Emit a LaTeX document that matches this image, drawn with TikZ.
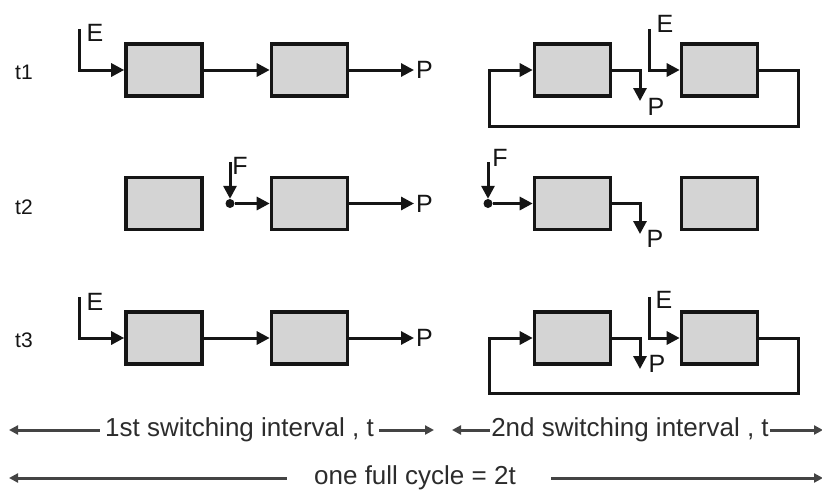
\documentclass[tikz,border=0pt]{standalone}
\usepackage{fontspec}
\setmainfont{Liberation Sans}
\usetikzlibrary{arrows.meta}
\definecolor{boxfill}{HTML}{D4D4D4}
\definecolor{ink}{HTML}{151515}
\tikzset{
  blk/.style={draw=ink, line width=3.6pt, fill=boxfill, minimum width=76pt, minimum height=52pt, inner sep=0pt},
  conn/.style={draw=ink, line width=3pt, line join=miter},
  flow/.style={conn, -{Triangle[length=13pt,width=13pt]}},
  lbl/.style={font=\fontsize{25}{25}\selectfont, text=ink, inner sep=0pt},
  tlbl/.style={font=\fontsize{21}{21}\selectfont, text=ink, inner sep=0pt},
  junc/.style={circle, fill=ink, inner sep=0pt, minimum size=9pt},
  span/.style={draw=ink!80, line width=3pt, -{Triangle[length=9pt,width=9pt]}},
  spantxt/.style={font=\fontsize{26}{26}\selectfont, text=ink!90, inner sep=0pt}
}
\begin{document}
\begin{tikzpicture}[x=1pt, y=-1pt]
\useasboundingbox (0,0) rectangle (822,491);

% ---------- row labels ----------
\node[tlbl] (t1) at (24,72) {t1};
\node[tlbl] (t2) at (24,207) {t2};
\node[tlbl] (t3) at (24,340) {t3};

% ---------- t1, first interval: straight chain ----------
\node[blk] (a1) at (164,70) {};
\node[blk] (b1) at (309.5,70) {};
\coordinate (e1) at (79,29);
\node[lbl] (le1) at (95,33) {E};
\node[lbl, anchor=west] (p1) at (416,70) {P};
\draw[flow] (e1) |- (a1.west);
\draw[flow] (a1.east) -- (b1.west);
\draw[flow] (b1.east) -- ([xshift=-2pt]p1.west);

% ---------- t1, second interval: loop ----------
\node[blk] (c1) at (572.5,70) {};
\node[blk] (d1) at (719.5,70) {};
\coordinate (r1) at (798,126);
\coordinate (l1) at (489,126);
\draw[flow] (d1.east) -| (r1) -- (l1) |- (c1.west);
\coordinate (q1) at (640,101);
\draw[flow] (c1.east) -| (q1);
\node[lbl] (pr1) at (656,107) {P};
\coordinate (e2) at (649,29);
\node[lbl] (le2) at (665,24) {E};
\draw[flow] (e2) |- (d1.west);

% ---------- t2, first interval ----------
\node[blk] (a2) at (164,203.5) {};
\node[blk] (b2) at (309.5,203.5) {};
\coordinate (f1) at (230,162);
\node[lbl] (lf1) at (240,166) {F};
\node[junc] (j1) at (230,203.5) {};
\draw[flow] (f1) -- (j1.north);
\draw[flow] (j1) -- (b2.west);
\node[lbl, anchor=west] (p2) at (416,203.5) {P};
\draw[flow] (b2.east) -- ([xshift=-2pt]p2.west);

% ---------- t2, second interval ----------
\node[blk] (c2) at (572.5,203.5) {};
\node[blk] (d2) at (719.5,203.5) {};
\coordinate (f2) at (488,162);
\node[lbl] (lf2) at (500,158) {F};
\node[junc] (j2) at (488,203.5) {};
\draw[flow] (f2) -- (j2.north);
\draw[flow] (j2) -- (c2.west);
\coordinate (q2) at (640,234);
\draw[flow] (c2.east) -| (q2);
\node[lbl] (pr2) at (655,239) {P};

% ---------- t3, first interval ----------
\node[blk] (a3) at (164,338) {};
\node[blk] (b3) at (309.5,338) {};
\coordinate (e3) at (79,297);
\node[lbl] (le3) at (95,302) {E};
\node[lbl, anchor=west] (p3) at (416,338) {P};
\draw[flow] (e3) |- (a3.west);
\draw[flow] (a3.east) -- (b3.west);
\draw[flow] (b3.east) -- ([xshift=-2pt]p3.west);

% ---------- t3, second interval ----------
\node[blk] (c3) at (572.5,338) {};
\node[blk] (d3) at (719.5,338) {};
\coordinate (r3) at (798,393);
\coordinate (l3) at (489,393);
\draw[flow] (d3.east) -| (r3) -- (l3) |- (c3.west);
\coordinate (q3) at (640,369);
\draw[flow] (c3.east) -| (q3);
\node[lbl] (pr3) at (657,364) {P};
\coordinate (e4) at (649,297);
\node[lbl] (le4) at (664,300) {E};
\draw[flow] (e4) |- (d3.west);

% ---------- timing spans ----------
\node[spantxt] (s1) at (239.5,430) {1st switching interval , t};
\coordinate (s1l) at (9,430);
\coordinate (s1r) at (434,430);
\draw[span, shorten <=5pt] (s1.west) -- (s1l);
\draw[span, shorten <=5pt] (s1.east) -- (s1r);

\node[spantxt] (s2) at (630,430) {2nd switching interval , t};
\coordinate (s2l) at (452,430);
\coordinate (s2r) at (823,430);
\draw[span, shorten <=1pt] (s2.west) -- (s2l);
\draw[span, shorten <=1pt] (s2.east) -- (s2r);

\node[spantxt] (s3) at (415,478) {one full cycle = 2t};
\coordinate (s3l) at (9,478);
\coordinate (s3r) at (823,478);
\draw[span, shorten <=27pt] (s3.west) -- (s3l);
\draw[span, shorten <=35pt] (s3.east) -- (s3r);
\end{tikzpicture}
\end{document}
